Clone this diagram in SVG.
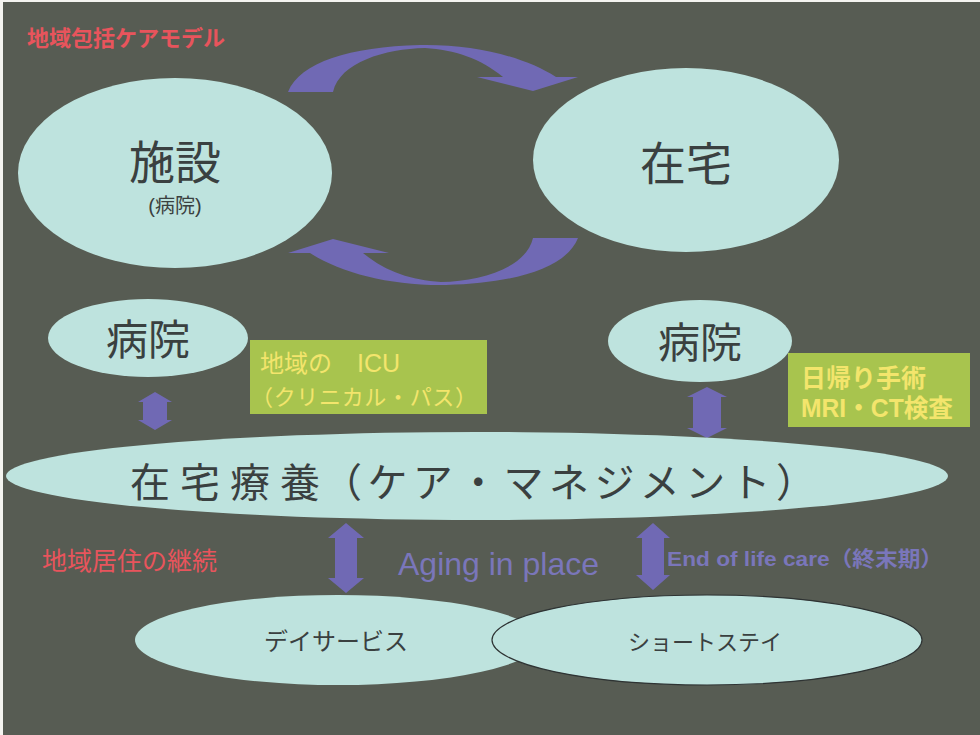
<svg xmlns="http://www.w3.org/2000/svg" width="980" height="735" viewBox="0 0 980 735">
<style>
.bg{fill:#575c53}
.node{fill:#bee3de}
.lbl{font-family:"Liberation Sans","Noto Sans CJK JP",sans-serif;fill:#3a4040}
.red{font-family:"Liberation Sans","Noto Sans CJK JP",sans-serif;fill:#e8545c}
.box{fill:#a8c44e}
.ylw{font-family:"Liberation Sans","Noto Sans CJK JP",sans-serif;fill:#f3e56c}
.arr{fill:#7069b4}
.purple{font-family:"Liberation Sans","Noto Sans CJK JP",sans-serif;fill:#7a76ba}
</style>
<rect width="980" height="735" fill="#f4f4f0"/>
<rect class="bg" x="3" y="2" width="977" height="733"/>

<text class="red" x="27" y="46" font-size="22" font-weight="bold">地域包括ケアモデル</text>
<text class="red" x="42" y="570" font-size="25">地域居住の継続</text>

<g id="connectors">
  <path id="cyc-top" class="arr" d="M288,92 C300,62 350,47 420,45 C475,44 525,57 556,77 L578,77 L533,91 L477,77 L503,77 C480,58 455,50 425,48 C385,49 340,62 333,92 Z"/>
  <path id="cyc-bottom" class="arr" transform="rotate(180 433 165)" d="M288,92 C300,62 350,47 420,45 C475,44 525,57 556,77 L578,77 L533,91 L477,77 L503,77 C480,58 455,50 425,48 C385,49 340,62 333,92 Z"/>
  <path id="a1" class="arr" d="M155,392 L172,402 L167,402 L167,420 L172,420 L155,430 L138,420 L143,420 L143,402 L138,402 Z"/>
  <path id="a2" class="arr" d="M707,387 L727,397 L721,397 L721,428 L727,428 L707,438 L687,428 L693,428 L693,397 L687,397 Z"/>
  <path id="a3" class="arr" d="M346,523 L364,538 L357,538 L357,578 L364,578 L346,593 L328,578 L335,578 L335,538 L328,538 Z"/>
  <path id="a4" class="arr" d="M653,523 L670,538 L664,538 L664,575 L670,575 L653,590 L636,575 L642,575 L642,538 L636,538 Z"/>
</g>

<g id="shisetsu">
  <ellipse class="node" cx="175" cy="173" rx="157" ry="95"/>
  <text class="lbl" x="175" y="179" font-size="46" text-anchor="middle">施設</text>
  <text class="lbl" x="175" y="213" font-size="20" text-anchor="middle">(病院)</text>
</g>
<g id="zaitaku">
  <ellipse class="node" cx="686" cy="160" rx="153" ry="92"/>
  <text class="lbl" x="686" y="180" font-size="46" text-anchor="middle">在宅</text>
</g>
<g id="byoin-left">
  <ellipse class="node" cx="148" cy="338" rx="100" ry="39"/>
  <text class="lbl" x="148" y="355" font-size="42" text-anchor="middle">病院</text>
</g>
<g id="icu-box">
  <rect class="box" x="250" y="340" width="237" height="74"/>
  <text class="ylw" x="260" y="372" font-size="24">地域の</text>
  <text class="ylw" x="357" y="372" font-size="25">ICU</text>
  <text class="ylw" x="251" y="405" font-size="22" textLength="226" lengthAdjust="spacing">（クリニカル・パス）</text>
</g>
<g id="byoin-right">
  <ellipse class="node" cx="700" cy="341" rx="92" ry="41"/>
  <text class="lbl" x="700" y="358" font-size="42" text-anchor="middle">病院</text>
</g>
<g id="daysurg-box">
  <rect class="box" x="788" y="353" width="182" height="74"/>
  <text class="ylw" x="801" y="387" font-size="25" font-weight="bold">日帰り手術</text>
  <text class="ylw" x="801" y="417" font-size="25" font-weight="bold" textLength="152" lengthAdjust="spacingAndGlyphs">MRI・CT検査</text>
</g>
<g id="zaitaku-ryoyo">
  <ellipse class="node" cx="477" cy="476" rx="471" ry="44"/>
  <text class="lbl" y="497" font-size="40"><tspan x="130">在</tspan><tspan x="180">宅</tspan><tspan x="230">療</tspan><tspan x="280">養</tspan></text>
  <text class="lbl" x="322" y="497" font-size="40" textLength="494" lengthAdjust="spacing">（ケア・マネジメント）</text>
</g>
<text class="purple" x="398" y="575" font-size="32">Aging in place</text>
<text class="purple" x="667" y="566" font-size="21" font-weight="bold" textLength="276" lengthAdjust="spacingAndGlyphs">End of life care（終末期）</text>
<g id="day-service">
  <ellipse class="node" cx="338" cy="640" rx="203" ry="45"/>
  <text class="lbl" x="336" y="650" font-size="24" text-anchor="middle">デイサービス</text>
</g>
<g id="short-stay">
  <ellipse class="node" cx="707" cy="640" rx="215" ry="45" stroke="#2e3333" stroke-width="1.2"/>
  <text class="lbl" x="705" y="650" font-size="22" text-anchor="middle">ショートステイ</text>
</g>
</svg>
